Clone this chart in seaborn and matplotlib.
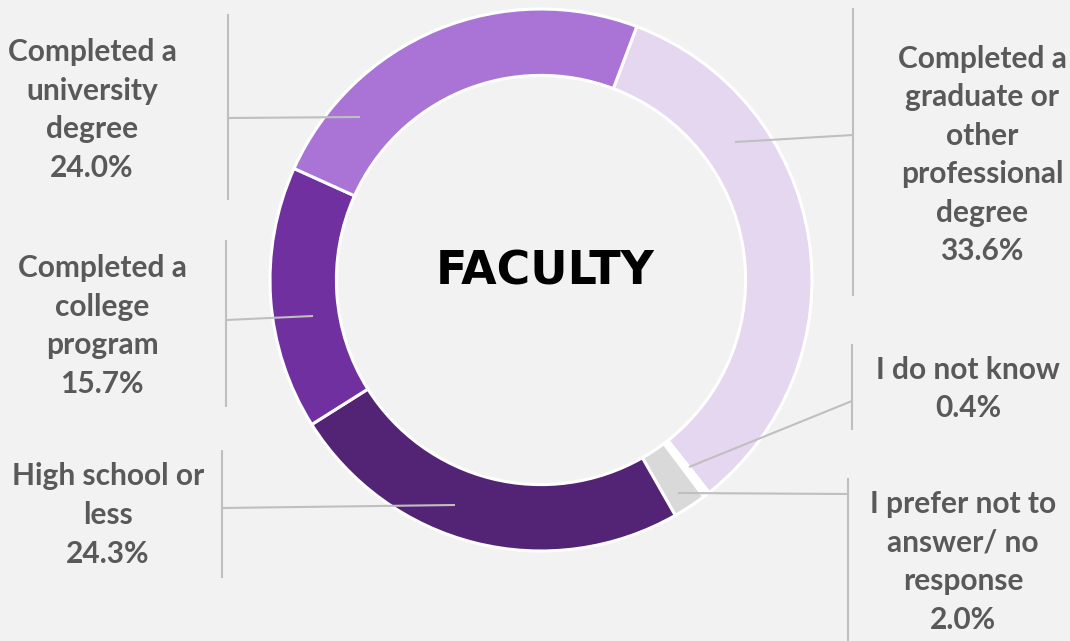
import matplotlib
matplotlib.use("Agg")
import matplotlib.pyplot as plt
import seaborn as sns
import numpy as np

# ---- data ----
categories = [
    "Completed a\ngraduate or\nother\nprofessional\ndegree",
    "I do not know",
    "I prefer not to\nanswer/ no\nresponse",
    "High school or\nless",
    "Completed a\ncollege\nprogram",
    "Completed a\nuniversity\ndegree",
]
values = [33.6, 0.4, 2.0, 24.3, 15.7, 24.0]
colors = ["#e6d7f1", "#ffffff", "#d9d9d9", "#532476", "#7030a0", "#a974d6"]
title = "FACULTY"

sns.set_theme(style="white")
plt.rcParams["font.family"] = ["Lato", "DejaVu Sans"]

W, H = 1070, 641
fig = plt.figure(figsize=(W / 100, H / 100), dpi=100, facecolor="#f2f2f2")
ax = fig.add_axes([0, 0, 1, 1])
ax.set_facecolor("#f2f2f2")

cx, cy = 541, H - 280
R = 271
palette = sns.color_palette(colors)
wedges, _ = ax.pie(values, colors=palette, startangle=69.3, counterclock=False,
                   radius=R, center=(cx, cy),
                   wedgeprops=dict(width=0.245 * R, edgecolor="white", linewidth=2.2))
ax.set_xlim(0, W)
ax.set_ylim(0, H)
ax.set_aspect("equal")
ax.axis("off")

ax.text(545, H - 272, title, ha="center", va="center", fontsize=33,
        fontweight="bold", family="DejaVu Sans", color="black")

# label layout (pixel positions: text center, leader start, bar x, bar y-range)
layout = [
    dict(tx=982, ty=155, start=(735, 142), end=(853, 135), bar=(853, 8, 296)),
    dict(tx=968, ty=389, start=(689, 467), end=(852, 401), bar=(852, 344, 430)),
    dict(tx=963, ty=562, start=(678, 493), end=(848, 494), bar=(848, 478, 641)),
    dict(tx=108, ty=515, start=(455, 505), end=(222, 508), bar=(222, 450, 578)),
    dict(tx=102, ty=326, start=(313, 316), end=(226, 320), bar=(226, 240, 407)),
    dict(tx=92, ty=110, start=(360, 117), end=(228, 118), bar=(228, 14, 200)),
]
lc = "#bfbfbf"
for cat, val, L in zip(categories, values, layout):
    ax.text(L["tx"], H - L["ty"], f"{cat}\n{val:.1f}%", ha="center", va="center",
            fontsize=21.5, fontweight="bold", color="#595959", linespacing=1.46)
    (x0, y0), (x1, y1) = L["start"], L["end"]
    ax.plot([x0, x1], [H - y0, H - y1], color=lc, lw=1.5, solid_capstyle="butt")
    bx, by0, by1 = L["bar"]
    ax.plot([bx, bx], [H - by0, H - by1], color=lc, lw=1.5, solid_capstyle="butt")

fig.savefig("out.png", dpi=100, facecolor=fig.get_facecolor())
